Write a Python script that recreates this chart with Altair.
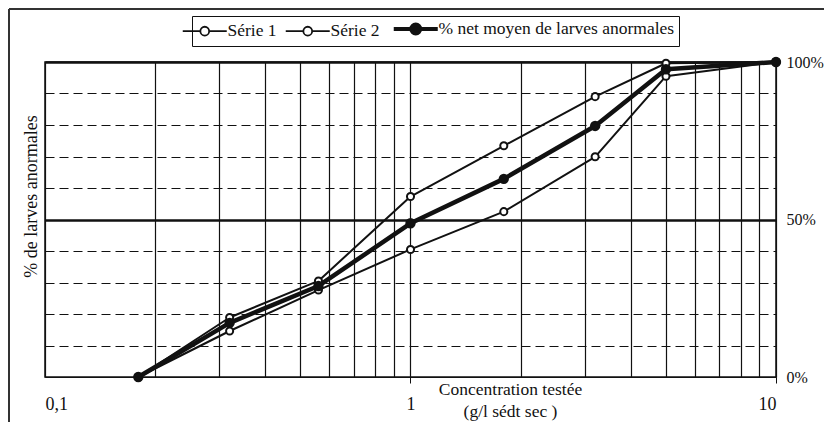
import altair as alt
import pandas as pd

# ---- data ----
conc = [0.18, 0.32, 0.56, 1.0, 1.8, 3.2, 5.0, 10.0]
serie1 = [0, 18.9, 30.5, 57.3, 73.4, 89.0, 99.6, 100]
serie2 = [0, 14.6, 27.6, 40.5, 52.5, 69.9, 95.5, 100]
moyenne = [0, 17.2, 28.9, 48.8, 62.9, 79.7, 97.7, 100]
series_names = ["Série 1", "Série 2", "% net moyen de larves anormales"]

x_grid = [0.1, 0.2, 0.3, 0.4, 0.5, 0.6, 0.7, 0.8, 0.9,
          1, 2, 3, 4, 5, 6, 7, 8, 9, 10]
y_grid = [0, 10, 20, 30, 40, 50, 60, 70, 80, 90, 100]
y_labels = [0, 50, 100]

rows = []
for name, vals in zip(series_names, [serie1, serie2, moyenne]):
    for c, v in zip(conc, vals):
        rows.append({"conc": c, "pct": v, "serie": name})
df = pd.DataFrame(rows)

FONT = "Liberation Serif"
INK = "#111111"
MEAN = series_names[2]
is_mean = f"datum.serie == '{MEAN}'"

legend_path = ("M-2,0L-0.4,0M0.4,0A0.4,0.4,0,1,1,-0.4,0"
               "A0.4,0.4,0,1,1,0.4,0M0.4,0L2,0")


def make_legend():
    return alt.Legend(
        title=None, orient="none", legendX=147, legendY=-46, direction="horizontal",
        symbolType=legend_path, symbolSize=484,
        symbolStrokeWidth={"expr": f"datum.value == '{MEAN}' ? 4.2 : 1.8"},
        labelFont=FONT, labelFontSize=17.5, labelColor=INK, labelOffset=14,
        columnPadding=5, padding=4, strokeColor=INK, fillColor="white",
        labelLimit=400,
    )


x_enc = alt.X(
    "conc:Q",
    scale=alt.Scale(type="log", domain=[0.1, 10], nice=False),
    axis=alt.Axis(
        values=x_grid,
        labelExpr="datum.value == 0.1 ? '0,1' : datum.value == 1 ? '1' : datum.value == 10 ? '10' : ''",
        grid=True, gridColor=INK, gridWidth=1.2, gridOpacity=1,
        domain=False, tickSize=6, tickColor=INK,
        tickOpacity={"condition": {"test": "datum.value == 1 || datum.value == 10", "value": 1}, "value": 0},
        labelFont=FONT, labelFontSize=18, labelColor=INK, labelPadding=12,
        labelBaseline="top",
        title=["Concentration testée", "(g/l sédt sec )"],
        titleFont=FONT, titleFontSize=17.5, titleFontWeight="normal", titleColor=INK,
        titleX=465, titleY=3, titleBaseline="top", titleAlign="center",
        titleLineHeight=22,
    ),
)

color_scale = alt.Scale(domain=series_names, range=[INK, INK, INK])
fill_scale = alt.Scale(domain=series_names, range=["white", "white", INK])

lines = alt.Chart(df).mark_line(strokeJoin="round").encode(
    x=x_enc,
    y=alt.Y(
        "pct:Q",
        scale=alt.Scale(domain=[0, 100], nice=False),
        axis=alt.Axis(
            orient="left", values=y_grid, labels=False, ticks=False, domain=False,
            grid=True, gridColor=INK, gridOpacity=1,
            gridDash={"condition": {"test": "datum.value % 50 == 0", "value": []}, "value": [9, 5]},
            gridWidth={"condition": {"test": "datum.value == 50 || datum.value == 100", "value": 2.4}, "value": 1.1},
            title="% de larves anormales", titleFont=FONT, titleFontSize=18,
            titleFontWeight="normal", titleColor=INK, titleAngle=-90,
            titleX=-5, titleY=134, titleBaseline="bottom", titleAlign="center",
        ),
    ),
    color=alt.Color("serie:N", scale=color_scale, sort=series_names, legend=make_legend()),
    strokeWidth=alt.condition(is_mean, alt.value(4.5), alt.value(2)),
    detail="serie:N",
    order=alt.Order("conc:Q"),
)

points = alt.Chart(df).mark_point(size=50, opacity=1, filled=False, strokeWidth=2).encode(
    x=x_enc,
    y=alt.Y(
        "pct:Q",
        scale=alt.Scale(domain=[0, 100], nice=False),
        axis=alt.Axis(
            orient="right", values=y_labels, labelExpr="datum.value + '%'",
            ticks=False, domain=False, grid=False, title=None,
            labelFont=FONT, labelFontSize=16, labelColor=INK, labelPadding=10,
        ),
    ),
    color=alt.Color("serie:N", scale=color_scale, sort=series_names, legend=make_legend()),
    fill=alt.Fill("serie:N", scale=fill_scale, sort=series_names, legend=make_legend()),
    size=alt.condition(is_mean, alt.value(70), alt.value(50)),
)

frame_left = alt.Chart(df).mark_rule(color="#333", strokeWidth=1.5).encode(
    x=alt.value(-36), y=alt.value(-53), y2=alt.value(372))
frame_top = alt.Chart(df).mark_rule(color="#333", strokeWidth=1.5).encode(
    x=alt.value(-36), x2=alt.value(790), y=alt.value(-53))

chart = alt.layer(lines, points, frame_left, frame_top).resolve_scale(
    y="independent"
).properties(
    width=731, height=315,
    autosize=alt.AutoSizeParams(type="none"),
    padding={"left": 37, "top": 54, "right": 48, "bottom": 45},
    background="white",
).configure_view(
    stroke=INK, strokeWidth=1.5
)

chart.save("out.html", embed_options={"renderer": "svg", "actions": False})
